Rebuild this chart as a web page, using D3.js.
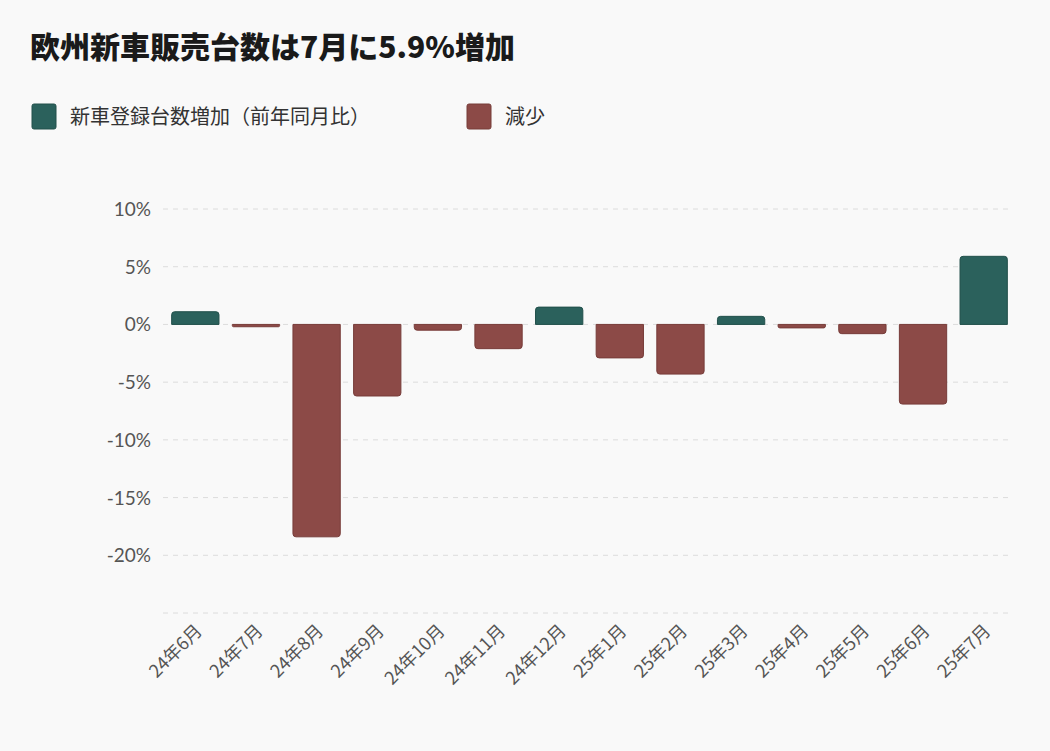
<!DOCTYPE html>
<html><head><meta charset="utf-8">
<script src="https://cdn.jsdelivr.net/npm/d3@7"></script>
<style>body{margin:0;background:#f9f9f9;font-family:"Noto Sans CJK JP","Noto Sans",sans-serif;}</style>
</head><body><svg id="c" width="1050" height="751"></svg>
<script>
const categories=["24年6月","24年7月","24年8月","24年9月","24年10月","24年11月","24年12月","25年1月","25年2月","25年3月","25年4月","25年5月","25年6月","25年7月"];
const values=[1.1,-0.2,-18.4,-6.2,-0.5,-2.1,1.5,-2.9,-4.3,0.7,-0.3,-0.8,-6.9,5.9];
const yTicks=[10,5,0,-5,-10,-15,-20,-25];
const title="欧州新車販売台数は7月に5.9%増加";
const legendLabels=["新車登録台数増加（前年同月比）","減少"];
const colors=["#2b615c","#8c4a47"], strokes=["#22504b","#773c39"];

const svg=d3.select("#c");
svg.append("rect").attr("width",1050).attr("height",751).attr("fill","#f9f9f9");
svg.append("text").attr("x",30).attr("y",58).attr("font-size",30).attr("font-weight",900).attr("fill","#1a1a1a").text(title);
const lg=svg.append("g");
[[32,70],[467,505]].forEach((p,i)=>{
  lg.append("rect").attr("x",p[0]).attr("y",104).attr("width",24).attr("height",25).attr("rx",2).attr("fill",colors[i]).attr("stroke",strokes[i]);
  lg.append("text").attr("x",p[1]).attr("y",124).attr("font-size",20).attr("fill","#333").text(legendLabels[i]);
});
const x=d3.scaleBand().domain(categories).range([165,1014]).paddingInner(0.22).paddingOuter(0.11);
const y=d3.scaleLinear().domain([-25,10]).range([613,209]);
const g=svg.append("g");
yTicks.forEach(t=>{
  g.append("line").attr("x1",163).attr("x2",1012).attr("y1",y(t)).attr("y2",y(t)).attr("stroke","#dcdcdc").attr("stroke-dasharray","5,5");
  if(t>-25) g.append("text").attr("x",151).attr("y",y(t)+7).attr("text-anchor","end").attr("font-size",19).attr("fill","#555").attr("font-family","Lato,sans-serif").text(t+"%");
});
const r=3;
g.selectAll("path.bar").data(values).join("path").attr("class","bar")
 .attr("fill",d=>d>=0?colors[0]:colors[1]).attr("stroke",d=>d>=0?strokes[0]:strokes[1]).attr("stroke-width",1)
 .attr("d",(d,i)=>{const x0=x(categories[i]),w=x.bandwidth(),y0=y(0),y1=y(d);const h=Math.abs(y1-y0);const rr=Math.min(r,h/2);
   if(d>=0) return `M${x0},${y0}V${y1+rr}Q${x0},${y1} ${x0+rr},${y1}H${x0+w-rr}Q${x0+w},${y1} ${x0+w},${y1+rr}V${y0}Z`;
   return `M${x0},${y0}V${y1-rr}Q${x0},${y1} ${x0+rr},${y1}H${x0+w-rr}Q${x0+w},${y1} ${x0+w},${y1-rr}V${y0}Z`;});
categories.forEach(c=>{
  const cx=x(c)+x.bandwidth()/2+8;
  g.append("text").attr("transform",`translate(${cx},${632}) rotate(-45)`).attr("text-anchor","end").attr("font-size",18).attr("fill","#555").text(c);
});
</script></body></html>
